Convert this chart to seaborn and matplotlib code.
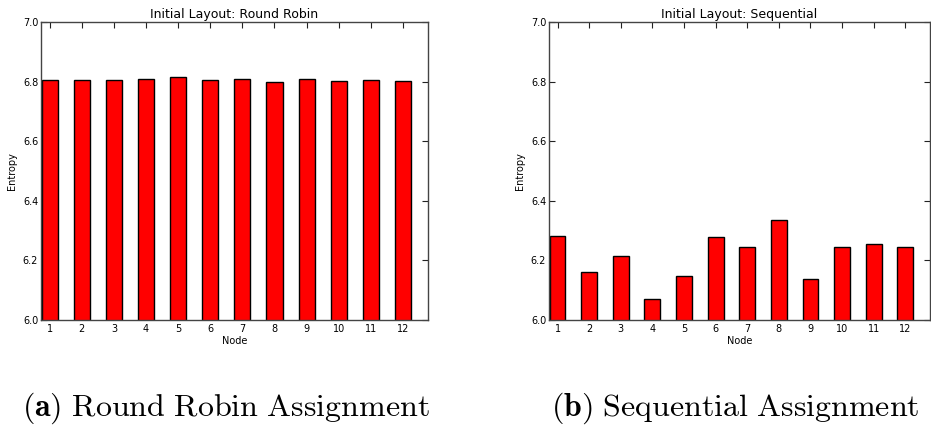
import pandas as pd
import seaborn as sns
import matplotlib.pyplot as plt

# Data
nodes = [str(i) for i in range(1, 13)]
entropy_round_robin = [6.807, 6.806, 6.806, 6.808, 6.814, 6.807,
                       6.808, 6.800, 6.810, 6.802, 6.806, 6.802]
entropy_sequential = [6.283, 6.160, 6.215, 6.072, 6.147, 6.278,
                      6.246, 6.334, 6.139, 6.244, 6.255, 6.244]
titles = ["Initial Layout: Round Robin", "Initial Layout: Sequential"]
captions = [r"$\mathbf{(a)}\ \mathrm{Round\ Robin\ Assignment}$",
            r"$\mathbf{(b)}\ \mathrm{Sequential\ Assignment}$"]

sns.set_theme(style="ticks")
plt.rcParams.update({
    "font.family": ["DejaVu Sans"],
    "mathtext.fontset": "cm",
    "text.color": "black", "axes.labelcolor": "black",
    "xtick.direction": "in", "ytick.direction": "in",
    "xtick.top": True, "ytick.right": True,
    "xtick.major.size": 4, "ytick.major.size": 4,
    "xtick.major.width": 0.8, "ytick.major.width": 0.8,
    "xtick.major.pad": 3, "ytick.major.pad": 2,
    "axes.edgecolor": "#444444", "axes.linewidth": 1.0,
    "xtick.color": "#222222", "ytick.color": "#222222",
    "xtick.labelcolor": "black", "ytick.labelcolor": "black",
})

W, H = 931, 425
fig = plt.figure(figsize=(W / 100, H / 100), dpi=100)
boxes = [(41, 22, 387, 298), (549, 22, 381, 298)]
series = [entropy_round_robin, entropy_sequential]
cap_x = [226, 735]

for (x0, y0, w, h), vals, title, cap, cx in zip(boxes, series, titles, captions, cap_x):
    ax = fig.add_axes([x0 / W, 1 - (y0 + h) / H, w / W, h / H])
    df = pd.DataFrame({"Node": nodes, "Entropy": vals})
    sns.barplot(data=df, x="Node", y="Entropy", ax=ax, color="#ff0000",
                saturation=1, width=0.5, edgecolor="black", linewidth=1)
    ax.set_ylim(6.0, 7.0)
    ax.set_yticks([6.0, 6.2, 6.4, 6.6, 6.8, 7.0])
    ax.set_yticklabels(["6.0", "6.2", "6.4", "6.6", "6.8", "7.0"])
    ax.set_xlim(-0.27, 11.78)
    ax.tick_params(labelsize=7)
    ax.set_xlabel("Node", fontsize=7, labelpad=1)
    ax.set_ylabel("Entropy", fontsize=7, labelpad=4)
    ax.set_title(title, fontsize=9, pad=3)
    fig.text(cx / W, 0.04, cap, ha="center", va="center", fontsize=23)

fig.savefig("out.png", dpi=100)
